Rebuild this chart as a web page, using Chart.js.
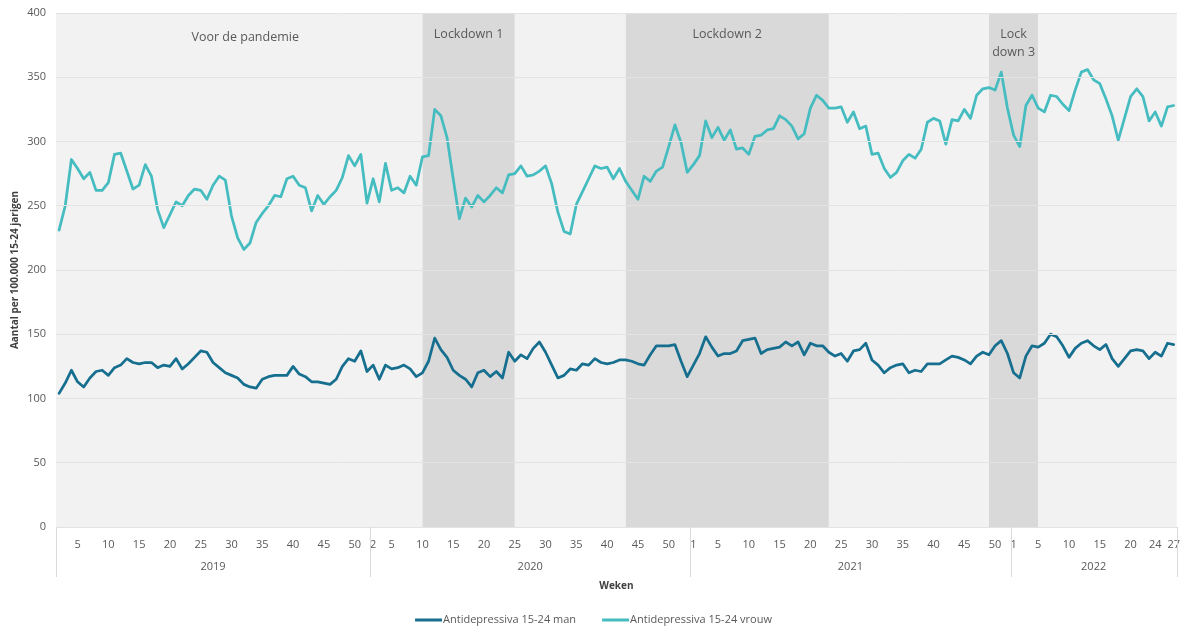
<!DOCTYPE html>
<html>
<head>
<meta charset="utf-8">
<script src="https://cdn.jsdelivr.net/npm/chart.js@4.4.1/dist/chart.umd.min.js"></script>
<style>
    html, body { margin: 0; padding: 0; background: #fff; }
    #wrap { width: 1181px; height: 628px; }
</style>
</head>
<body>
<div id="wrap"><canvas id="chart"></canvas></div>
<script>
// weeks per year shown on the axis (2019 and 2020 start at week 2)
const years = [2019, 2020, 2021, 2022];
const firstWeek = [2, 2, 1, 1];
const lastWeek = [52, 53, 52, 27];
const shownWeeks = [
    [5, 10, 15, 20, 25, 30, 35, 40, 45, 50],
    [2, 5, 10, 15, 20, 25, 30, 35, 40, 45, 50],
    [1, 5, 10, 15, 20, 25, 30, 35, 40, 45, 50],
    [1, 5, 10, 15, 20, 24, 27]
];

// Antidepressiva 15-24 man, per 100.000
const man2019 = [104, 112, 122, 113, 109, 116, 121, 122, 118, 124, 126, 131, 128, 127, 128, 128, 124, 126, 125, 131,
    123, 127, 132, 137, 136, 128, 124, 120, 118, 116, 111, 109, 108, 115, 117, 118, 118, 118, 125, 119,
    117, 113, 113, 112, 111, 115, 125, 131, 129, 137, 121];
const man2020 = [126, 115, 126, 123, 124, 126, 123, 117, 120, 129, 147, 138, 132, 122, 118, 115, 109, 120, 122, 117,
    121, 116, 136, 129, 134, 131, 139, 144, 136, 126, 116, 118, 123, 122, 127, 126, 131, 128, 127, 128,
    130, 130, 129, 127, 126, 134, 141, 141, 141, 142, 129, 117];
const man2021 = [126, 135, 148, 140, 133, 135, 135, 137, 145, 146, 147, 135, 138, 139, 140, 144, 141, 144, 134, 143,
    141, 141, 136, 133, 135, 129, 137, 138, 143, 130, 126, 120, 124, 126, 127, 120, 122, 121, 127, 127,
    127, 130, 133, 132, 130, 127, 133, 136, 134, 141, 145, 135];
const man2022 = [120, 116, 133, 141, 140, 143, 150, 148, 141, 132, 139, 143, 145, 141, 138, 142, 131, 125, 131, 137,
    138, 137, 131, 136, 133, 143, 142];

// Antidepressiva 15-24 vrouw, per 100.000
const vrouw2019 = [231, 250, 286, 279, 271, 276, 262, 262, 268, 290, 291, 277, 263, 266, 282, 273, 247, 233, 243, 253,
    250, 258, 263, 262, 255, 266, 273, 270, 242, 225, 216, 221, 237, 244, 250, 258, 257, 271, 273, 266,
    264, 246, 258, 251, 257, 262, 272, 289, 281, 290, 252];
const vrouw2020 = [271, 253, 283, 262, 264, 260, 273, 266, 288, 289, 325, 320, 303, 271, 240, 256, 249, 258, 253, 258,
    264, 260, 274, 275, 281, 273, 274, 277, 281, 267, 245, 230, 228, 251, 261, 271, 281, 279, 280, 271,
    279, 269, 262, 255, 273, 269, 277, 280, 296, 313, 299, 276];
const vrouw2021 = [282, 289, 316, 303, 311, 301, 309, 294, 295, 290, 304, 305, 309, 310, 320, 317, 312, 302, 306, 326,
    336, 332, 326, 326, 327, 315, 323, 310, 312, 290, 291, 279, 272, 276, 285, 290, 287, 294, 315, 318,
    316, 298, 317, 316, 325, 318, 336, 341, 342, 340, 354, 326];
const vrouw2022 = [305, 296, 328, 336, 326, 323, 336, 335, 329, 324, 340, 354, 356, 348, 345, 333, 320, 301, 318, 335,
    341, 335, 316, 323, 312, 327, 328];

// lockdown periods (year-week)
const lockdownNames = [['Lockdown 1'], ['Lockdown 2'], ['Lock', 'down 3']];
const lockdownFrom = ['2020-10', '2020-43', '2021-49'];
const lockdownTo = ['2020-25', '2021-23', '2022-5'];
const beforeName = 'Voor de pandemie';

const yMax = 400;
const textColor = '#595959';
const fontFamily = "'Open Sans', 'Noto Sans', sans-serif";

const weeks = [];
years.forEach((y, k) => {
    for (let w = firstWeek[k]; w <= lastWeek[k]; w++) weeks.push(y + '-' + w);
});
const man = [].concat(man2019, man2020, man2021, man2022);
const vrouw = [].concat(vrouw2019, vrouw2020, vrouw2021, vrouw2022);

const bandSets = lockdownFrom.map((from, k) => {
    const a = weeks.indexOf(from);
    const b = weeks.indexOf(lockdownTo[k]);
    return {
        label: lockdownNames[k].join(''),
        data: weeks.map((wk, i) => (i >= a && i <= b) ? yMax : null),
        borderWidth: 0,
        borderColor: 'transparent',
        backgroundColor: '#d9d9d9',
        fill: 'origin',
        pointRadius: 0,
        isBand: true
    };
});

const decor = {
    id: 'decor',
    beforeDraw(chart) {
        const { ctx, chartArea: a } = chart;
        ctx.save();
        ctx.fillStyle = '#f2f2f2';
        ctx.fillRect(a.left, a.top, a.right - a.left, a.bottom - a.top);
        ctx.restore();
    },
    afterDraw(chart) {
        const { ctx, chartArea: a } = chart;
        const x = chart.scales.x;
        ctx.save();

        // year groups under the week ticks
        ctx.strokeStyle = '#d9d9d9';
        ctx.lineWidth = 1;
        ctx.fillStyle = textColor;
        ctx.font = '11px ' + fontFamily;
        ctx.textAlign = 'center';
        ctx.textBaseline = 'middle';
        let start = 0;
        const edges = [a.left];
        years.forEach((y, k) => {
            const n = lastWeek[k] - firstWeek[k] + 1;
            const end = start + n - 1;
            const left = start === 0 ? a.left : (x.getPixelForValue(start - 1) + x.getPixelForValue(start)) / 2;
            const right = end === weeks.length - 1 ? a.right : (x.getPixelForValue(end) + x.getPixelForValue(end + 1)) / 2;
            edges.push(right);
            ctx.fillText(String(y), (left + right) / 2, a.bottom + 40);
            start = end + 1;
        });
        edges.forEach(e => {
            const px = Math.round(e) + 0.5;
            ctx.beginPath();
            ctx.moveTo(px, a.bottom);
            ctx.lineTo(px, a.bottom + 50);
            ctx.stroke();
        });

        // period labels
        ctx.font = '12.5px ' + fontFamily;
        const bandLeft = [];
        lockdownFrom.forEach((from, k) => {
            const l = x.getPixelForValue(weeks.indexOf(from));
            const r = x.getPixelForValue(weeks.indexOf(lockdownTo[k]));
            bandLeft.push(l);
            lockdownNames[k].forEach((line, j) => {
                ctx.fillText(line, (l + r) / 2, a.top + 21 + j * 18);
            });
        });
        ctx.fillText(beforeName, (a.left + bandLeft[0]) / 2 + 6, a.top + 24);

        // legend
        const items = chart.data.datasets.filter(d => !d.isBand);
        ctx.font = '11px ' + fontFamily;
        ctx.textAlign = 'left';
        const lineLen = 27, gap = 26;
        const widths = items.map(d => lineLen + 1 + ctx.measureText(d.label).width);
        const total = widths.reduce((s, w) => s + w, 0) + gap * (items.length - 1);
        let lx = chart.width / 2 - total / 2 + 3;
        const ly = 620;
        items.forEach((d, i) => {
            ctx.strokeStyle = d.borderColor;
            ctx.lineWidth = 3;
            ctx.beginPath();
            ctx.moveTo(lx, ly);
            ctx.lineTo(lx + lineLen, ly);
            ctx.stroke();
            ctx.fillStyle = textColor;
            ctx.fillText(d.label, lx + lineLen + 1, ly);
            lx += widths[i] + gap;
        });
        ctx.restore();
    }
};

new Chart(document.getElementById('chart'), {
    type: 'line',
    data: {
        labels: weeks,
        datasets: [
            {
                label: 'Antidepressiva 15-24 man',
                data: man,
                borderColor: '#176f8f',
                borderWidth: 2.75,
                pointRadius: 0,
                tension: 0
            },
            {
                label: 'Antidepressiva 15-24 vrouw',
                data: vrouw,
                borderColor: '#45bcc0',
                borderWidth: 2.75,
                pointRadius: 0,
                tension: 0
            },
            ...bandSets
        ]
    },
    options: {
        responsive: true,
        maintainAspectRatio: false,
        animation: false,
        layout: { padding: { top: 13, right: 4, bottom: 36, left: 0 } },
        elements: { line: { borderJoinStyle: 'round', borderCapStyle: 'round' } },
        plugins: {
            legend: { display: false },
            tooltip: { enabled: false }
        },
        scales: {
            x: {
                offset: true,
                grid: { display: false, drawTicks: true, tickLength: 10 },
                border: { color: '#d9d9d9' },
                ticks: {
                    autoSkip: false,
                    maxRotation: 0,
                    minRotation: 0,
                    padding: 1,
                    color: textColor,
                    font: { family: fontFamily, size: 11 },
                    callback(value) {
                        const [y, w] = this.getLabelForValue(value).split('-').map(Number);
                        return shownWeeks[years.indexOf(y)].includes(w) ? String(w) : '';
                    }
                },
                title: {
                    display: true,
                    text: 'Weken',
                    color: '#404040',
                    padding: 0,
                    font: { family: fontFamily, size: 10, weight: 'bold' }
                },
                afterFit(scale) { scale.height = 65; }
            },
            y: {
                min: 0,
                max: yMax,
                grid: { color: '#e3e3e3', z: 1, drawTicks: true, tickLength: 8, tickColor: 'transparent' },
                border: { display: false },
                ticks: {
                    stepSize: 50,
                    padding: 2,
                    color: textColor,
                    font: { family: fontFamily, size: 11 }
                },
                title: {
                    display: true,
                    text: 'Aantal per 100.000 15-24 jarigen',
                    color: '#404040',
                    padding: { top: 9, bottom: 0 },
                    font: { family: fontFamily, size: 10, weight: 'bold' }
                },
                afterFit(scale) { scale.width = 56; }
            }
        }
    },
    plugins: [decor]
});
</script>
</body>
</html>
